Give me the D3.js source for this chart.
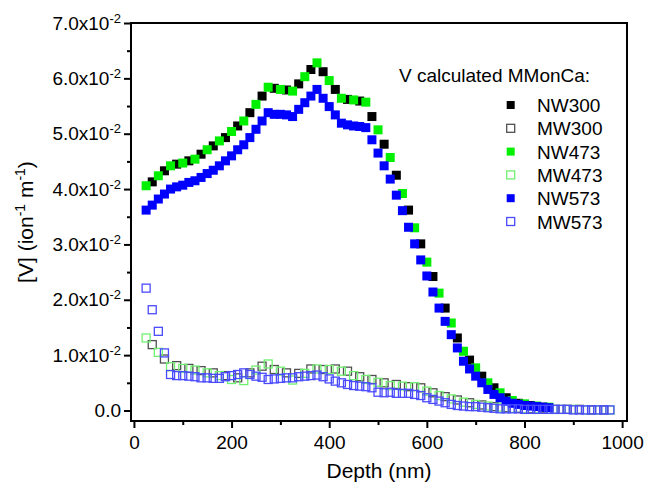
<!DOCTYPE html>
<html>
<head>
<meta charset="utf-8">
<script src="https://cdn.jsdelivr.net/npm/d3@7"></script>
<style>
  body { margin: 0; background: #fff; }
  svg { display: block; font-family: "Liberation Sans", Arial, sans-serif; }
</style>
</head>
<body>
<div id="chart"></div>
<script>
// depth grids (nm)
const depthFine = [25, 37.5, 50, 62.5, 75, 87.5, 100, 112.5, 125, 137.5, 150, 162.5, 175, 187.5, 200, 212.5,
  225, 237.5, 250, 262.5, 275, 287.5, 300, 312.5, 325, 337.5, 350, 362.5, 375, 387.5, 400, 412.5,
  425, 437.5, 450, 462.5, 475, 487.5, 500, 512.5, 525, 537.5, 550, 562.5, 575, 587.5, 600, 612.5,
  625, 637.5, 650, 662.5, 675, 687.5, 700, 712.5, 725, 737.5, 750, 762.5, 775, 787.5, 800, 812.5,
  825, 837.5, 850, 862.5, 875, 887.5, 900, 912.5, 925, 937.5, 950, 962.5, 975];
const depthEven = [25, 50, 75, 100, 125, 150, 175, 200, 225, 250, 275, 300, 325, 350, 375, 400, 425, 450,
  475, 500, 525, 550, 575, 600, 625, 650, 675, 700, 725, 750, 775, 800, 825, 850, 875, 900, 925, 950, 975];
const depthOdd = [37.5, 62.5, 87.5, 112.5, 137.5, 162.5, 187.5, 212.5, 237.5, 262.5, 287.5, 312.5, 337.5,
  362.5, 387.5, 412.5, 437.5, 462.5, 487.5, 512.5, 537.5, 562.5, 587.5, 612.5, 637.5, 662.5, 687.5,
  712.5, 737.5, 762.5, 787.5, 812.5, 837.5, 862.5, 887.5, 912.5, 937.5, 962.5];

// [V] values (ion^-1 m^-1)
const nw300 = [0.0413, 0.0433, 0.0445, 0.0451, 0.0463, 0.0478, 0.0493, 0.0514, 0.0538, 0.0568, 0.0582,
  0.0579, 0.0590, 0.0616, 0.0612, 0.0580, 0.0562, 0.0559, 0.0531, 0.0481, 0.0425, 0.0362, 0.0301,
  0.0242, 0.0185, 0.0131, 0.0091, 0.0062, 0.0041, 0.0023, 0.0013, 0.0009, 0.0006];
const mw300 = [0.0119, 0.0093, 0.0081, 0.0076, 0.0072, 0.0068, 0.0063, 0.0059, 0.0068, 0.0080, 0.0074,
  0.0068, 0.0067, 0.0075, 0.0074, 0.0075, 0.0071, 0.0061, 0.0056, 0.0050, 0.0047, 0.0043, 0.0041,
  0.0032, 0.0025, 0.0019, 0.0014, 0.0010, 0.0007, 0.0005, 0.0004, 0.0003, 0.0003, 0.0002, 0.0002,
  0.0002, 0.0001, 0.0001];
const nw473 = [0.0406, 0.0424, 0.0442, 0.0447, 0.0454, 0.0471, 0.0487, 0.0504, 0.0523, 0.0553, 0.0584,
  0.0580, 0.0577, 0.0603, 0.0628, 0.0596, 0.0564, 0.0561, 0.0557, 0.0507, 0.0457, 0.0392, 0.0330,
  0.0268, 0.0212, 0.0158, 0.0107, 0.0077, 0.0050, 0.0032, 0.0018, 0.0012, 0.0008, 0.0006];
const mw473 = [0.0131, 0.0105, 0.0079, 0.0076, 0.0073, 0.0068, 0.0063, 0.0056, 0.0054, 0.0073, 0.0084,
  0.0071, 0.0055, 0.0067, 0.0075, 0.0074, 0.0071, 0.0063, 0.0056, 0.0051, 0.0045, 0.0044, 0.0043,
  0.0035, 0.0027, 0.0021, 0.0015, 0.0011, 0.0008, 0.0006, 0.0004, 0.0003, 0.0003, 0.0002, 0.0002,
  0.0002, 0.0001, 0.0001, 0.0001];
const nw573 = [0.0362, 0.0371, 0.0382, 0.0391, 0.0400, 0.0404, 0.0407, 0.0412, 0.0415, 0.0421, 0.0428,
  0.0434, 0.0442, 0.0451, 0.0460, 0.0471, 0.0480, 0.0493, 0.0508, 0.0523, 0.0538, 0.0535, 0.0535,
  0.0534, 0.0531, 0.0544, 0.0556, 0.0568, 0.0580, 0.0564, 0.0549, 0.0534, 0.0519, 0.0516, 0.0514,
  0.0513, 0.0511, 0.0489, 0.0465, 0.0442, 0.0418, 0.0389, 0.0361, 0.0331, 0.0301, 0.0272, 0.0243,
  0.0214, 0.0185, 0.0161, 0.0137, 0.0113, 0.0089, 0.0075, 0.0062, 0.0050, 0.0038, 0.0029, 0.0023,
  0.0017, 0.0013, 0.0011, 0.0009, 0.0008, 0.0007, 0.0006, 0.0005];
const mw573 = [0.0221, 0.0182, 0.0143, 0.0104, 0.0065, 0.0063, 0.0063, 0.0062, 0.0061, 0.0059, 0.0059,
  0.0058, 0.0058, 0.0061, 0.0063, 0.0065, 0.0068, 0.0065, 0.0062, 0.0060, 0.0056, 0.0057, 0.0058,
  0.0059, 0.0059, 0.0061, 0.0062, 0.0063, 0.0064, 0.0061, 0.0057, 0.0053, 0.0050, 0.0047, 0.0045,
  0.0044, 0.0043, 0.0041, 0.0033, 0.0032, 0.0033, 0.0031, 0.0031, 0.0031, 0.0029, 0.0027, 0.0023,
  0.0020, 0.0017, 0.0014, 0.0011, 0.0009, 0.0008, 0.0007, 0.0007, 0.0006, 0.0005, 0.0004, 0.0003,
  0.0003, 0.0003, 0.0003, 0.0002, 0.0002, 0.0002, 0.0002, 0.0002, 0.0002, 0.0002, 0.0002, 0.0001,
  0.0001, 0.0001, 0.0001, 0.0001, 0.0001, 0.0001];

const seriesNames = ["NW300", "MW300", "NW473", "MW473", "NW573", "MW573"];
const seriesDepths = [depthOdd, depthOdd, depthEven, depthEven, depthFine, depthFine];
const seriesValues = [nw300, mw300, nw473, mw473, nw573, mw573];
const seriesColors = ["#000000", "#505050", "#00f000", "#70f070", "#0000ff", "#4a4aff"];
const seriesFilled = [true, false, true, false, true, false];

const xTicks = [0, 200, 400, 600, 800, 1000];
const xMinor = [100, 300, 500, 700, 900];
const yTicks = [0, 0.01, 0.02, 0.03, 0.04, 0.05, 0.06, 0.07];
const yMinor = [0.005, 0.015, 0.025, 0.035, 0.045, 0.055, 0.065];

const width = 655, height = 493;
const plot = {left: 131, right: 627, top: 23, bottom: 421};
const fontFam = "Liberation Sans, Arial, sans-serif";

const svg = d3.select("#chart").append("svg")
  .attr("width", width)
  .attr("height", height);

const x = d3.scaleLinear().domain([-6, 1010]).range([plot.left, plot.right]);
const y = d3.scaleLinear().domain([-0.0019, 0.07]).range([plot.bottom, plot.top]);

// the axis call resets font attrs, so set them afterwards
const styleAxis = g => {
  g.select(".domain").remove();
  g.attr("font-size", 19).attr("font-family", fontFam);
  g.selectAll(".tick line").attr("stroke", "#000").attr("stroke-width", 2);
  g.selectAll("text").attr("fill", "#000");
};

// minor ticks first, then labelled ticks
svg.append("g")
  .attr("transform", `translate(0,${plot.bottom})`)
  .call(d3.axisBottom(x).tickValues(xMinor).tickSize(4).tickFormat(""))
  .call(styleAxis);

svg.append("g")
  .attr("transform", `translate(0,${plot.bottom})`)
  .call(d3.axisBottom(x).tickValues(xTicks).tickSize(7).tickPadding(8).tickFormat(d3.format("d")))
  .call(styleAxis);

svg.append("g")
  .attr("transform", `translate(${plot.left},0)`)
  .call(d3.axisLeft(y).tickValues(yMinor).tickSize(4).tickFormat(""))
  .call(styleAxis);

const yAxis = svg.append("g")
  .attr("transform", `translate(${plot.left},0)`)
  .call(d3.axisLeft(y).tickValues(yTicks).tickSize(7).tickPadding(3).tickFormat(""))
  .call(styleAxis);

// "7.0x10^-2" style labels
yAxis.selectAll(".tick text").each(function(d) {
  const t = d3.select(this);
  if (d === 0) {
    t.text("0.0");
    return;
  }
  t.append("tspan").text((d * 100).toFixed(1) + "x10");
  t.append("tspan").attr("dy", -7).attr("font-size", 13).text("-2");
});

// frame
svg.append("rect")
  .attr("x", plot.left)
  .attr("y", plot.top)
  .attr("width", plot.right - plot.left)
  .attr("height", plot.bottom - plot.top)
  .attr("fill", "none")
  .attr("stroke", "#000")
  .attr("stroke-width", 2);

// markers
const size = 9;
seriesNames.forEach((name, s) => {
  const pts = seriesValues[s].map((v, i) => ({d: seriesDepths[s][i], v: v}));
  const filled = seriesFilled[s];
  const sz = filled ? size : size - 1;
  svg.append("g")
    .attr("class", name)
    .selectAll("rect")
    .data(pts)
    .enter()
    .append("rect")
      .attr("x", p => x(p.d) - sz / 2)
      .attr("y", p => y(p.v) - sz / 2)
      .attr("width", sz)
      .attr("height", sz)
      .attr("fill", filled ? seriesColors[s] : "none")
      .attr("stroke", filled ? "none" : seriesColors[s])
      .attr("stroke-width", filled ? 0 : 1.3);
});

// legend
const legend = svg.append("g").attr("font-size", 19).attr("fill", "#000");
legend.append("text")
  .attr("x", 399)
  .attr("y", 82)
  .text("V calculated MMonCa:");

seriesNames.forEach((name, s) => {
  const cy = 105 + s * 23.3;
  legend.append("rect")
    .attr("x", 510.7 - 4)
    .attr("y", cy - 4)
    .attr("width", 8)
    .attr("height", 8)
    .attr("fill", seriesFilled[s] ? seriesColors[s] : "#fff")
    .attr("stroke", seriesFilled[s] ? "none" : seriesColors[s])
    .attr("stroke-width", 1.3);
  legend.append("text")
    .attr("x", 537)
    .attr("y", cy + 7)
    .text(name);
});

// axis titles
svg.append("text")
  .attr("x", (plot.left + plot.right) / 2)
  .attr("y", 478)
  .attr("text-anchor", "middle")
  .attr("font-size", 21)
  .text("Depth (nm)");

const yTitle = svg.append("text")
  .attr("transform", `translate(33,${(plot.top + plot.bottom) / 2}) rotate(-90)`)
  .attr("text-anchor", "middle")
  .attr("font-size", 21);
yTitle.append("tspan").text("[V] (ion");
yTitle.append("tspan").attr("dy", -8).attr("font-size", 14).text("-1");
yTitle.append("tspan").attr("dy", 8).text(" m");
yTitle.append("tspan").attr("dy", -8).attr("font-size", 14).text("-1");
yTitle.append("tspan").attr("dy", 8).text(")");
</script>
</body>
</html>
